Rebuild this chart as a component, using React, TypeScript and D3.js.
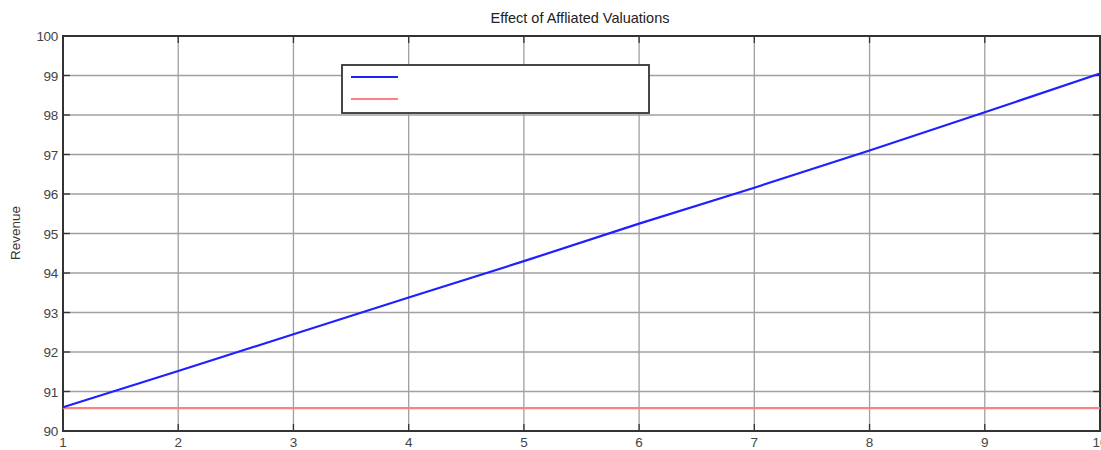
import React from "react";
import * as d3 from "d3";

const xValues = [1, 2, 3, 4, 5, 6, 7, 8, 9, 10];
const affiliated = [90.6, 91.52, 92.45, 93.38, 94.3, 95.25, 96.16, 97.1, 98.07, 99.05];
const baseline = [90.58, 90.58, 90.58, 90.58, 90.58, 90.58, 90.58, 90.58, 90.58, 90.58];
const xTicks = [1, 2, 3, 4, 5, 6, 7, 8, 9, 10];
const yTicks = [90, 91, 92, 93, 94, 95, 96, 97, 98, 99, 100];

const W = 1101;
const H = 450;
const left = 63;
const right = 1100;
const top = 36;
const bottom = 431;

export default function App() {
  const x = d3.scaleLinear().domain([1, 10]).range([left, right]);
  const y = d3.scaleLinear().domain([90, 100]).range([bottom, top]);
  const line = d3
    .line<number>()
    .x((_, i) => x(xValues[i]))
    .y((d) => y(d));
  const font = "Liberation Sans, Arial, sans-serif";
  return (
    <svg
      width={W}
      height={H}
      style={{ position: "absolute", left: 0, top: 0, background: "#fff" }}
      fontFamily={font}
    >
      <rect x={0} y={0} width={W} height={H} fill="#fff" />
      {/* grid */}
      {xTicks.map((t) => (
        <line key={"gx" + t} x1={x(t)} x2={x(t)} y1={top} y2={bottom} stroke="#a0a0a0" strokeWidth={1.3} />
      ))}
      {yTicks.map((t) => (
        <line key={"gy" + t} x1={left} x2={right} y1={y(t)} y2={y(t)} stroke="#a0a0a0" strokeWidth={1.3} />
      ))}
      {/* ticks */}
      {xTicks.map((t) => (
        <g key={"tx" + t}>
          <line x1={x(t)} x2={x(t)} y1={bottom} y2={bottom - 7} stroke="#333" strokeWidth={1.3} />
          <line x1={x(t)} x2={x(t)} y1={top} y2={top + 7} stroke="#333" strokeWidth={1.3} />
          <text x={x(t)} y={bottom + 16} textAnchor="middle" fontSize={13.5} fill="#444">
            {t}
          </text>
        </g>
      ))}
      {yTicks.map((t) => (
        <g key={"ty" + t}>
          <line x1={left} x2={left + 7} y1={y(t)} y2={y(t)} stroke="#333" strokeWidth={1.3} />
          <line x1={right} x2={right - 7} y1={y(t)} y2={y(t)} stroke="#333" strokeWidth={1.3} />
          <text x={left - 5} y={y(t) + 5} textAnchor="end" fontSize={13.5} fill="#444" letterSpacing={-0.3}>
            {t}
          </text>
        </g>
      ))}
      {/* frame */}
      <rect x={left} y={top} width={right - left} height={bottom - top} fill="none" stroke="#333" strokeWidth={2} />
      {/* series */}
      <path d={line(baseline) || ""} fill="none" stroke="#ff8080" strokeWidth={2.2} />
      <path d={line(affiliated) || ""} fill="none" stroke="#2020ff" strokeWidth={2.2} />
      {/* legend */}
      <rect x={342} y={65} width={307} height={48} fill="#fff" stroke="#333" strokeWidth={1.8} />
      <line x1={351} x2={398} y1={77} y2={77} stroke="#2020ff" strokeWidth={2.2} />
      <line x1={351} x2={398} y1={99} y2={99} stroke="#ff8080" strokeWidth={2.2} />
      {/* title & labels */}
      <text x={580} y={23} textAnchor="middle" fontSize={14.5} fill="#222">
        Effect of Affliated Valuations
      </text>
      <text
        transform={`translate(20, 233) rotate(-90)`}
        textAnchor="middle"
        fontSize={13.5}
        fill="#333"
      >
        Revenue
      </text>
    </svg>
  );
}
